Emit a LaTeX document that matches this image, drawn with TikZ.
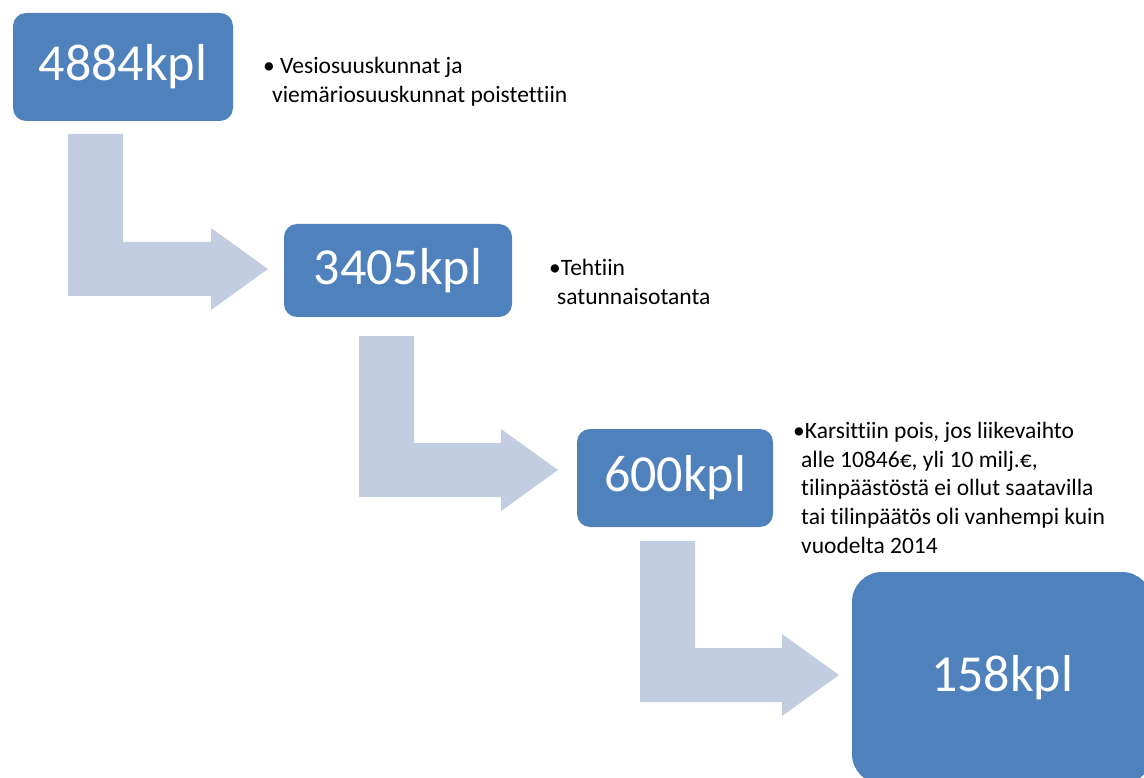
\documentclass[tikz,border=0pt]{standalone}
\usepackage{fontspec}
\setmainfont[Ligatures=NoCommon]{Carlito}
\definecolor{stageblue}{RGB}{79,129,189}
\definecolor{arrowgrey}{RGB}{194,205,226}
\tikzstyle{stage}=[rounded corners=13pt,fill=stageblue,text=white,font=\fontsize{52}{60}\selectfont]
\tikzstyle{note}=[anchor=north west,inner sep=0pt,align=left,font=\fontsize{23.5}{28.7}\selectfont]

\begin{document}
\begin{tikzpicture}[x=1pt,y=-1pt]
          \useasboundingbox (0,0) rectangle (1144,778);
          \clip (0,0) rectangle (1144,778);

          \foreach \l/\t/\c/\h in {68/134/269/211, 359/336/470/501, 640/541/675/782}{
            \fill[arrowgrey] (\l,\t) -- (\l+55,\t) -- (\l+55,\c-27) -- (\h,\c-27) -- (\h,\c-41)
              -- (\h+57,\c) -- (\h,\c+41) -- (\h,\c+27) -- (\l,\c+27) -- cycle;
          }

          \node (b1) at (123,67) [stage,minimum width=220pt,minimum height=108pt] {4884kpl};
          \node (b2) at (398,270.5) [stage,minimum width=228pt,minimum height=93pt] {3405kpl};
          \node (b3) at (675,478) [stage,minimum width=196pt,minimum height=98pt] {600kpl};
          \node (b4) at (1002,678) [stage,rounded corners=30pt,minimum width=300pt,minimum height=212pt] {158kpl};

          \node (t1) at (263,57) [note] {\textbullet\ Vesiosuuskunnat ja\\\hspace*{9pt}viemäriosuuskunnat poistettiin};
          \node (t2) at (549,259) [note] {\textbullet Tehtiin\\\hspace*{8pt}satunnaisotanta};
          \node (t3) at (793,422) [note] {\textbullet Karsittiin pois, jos liikevaihto\\
            \hspace*{8pt}alle 10846€, yli 10 milj.€,\\
            \hspace*{8pt}tilinpäästöstä ei ollut saatavilla\\
            \hspace*{8pt}tai tilinpäätös oli vanhempi kuin\\
            \hspace*{8pt}vuodelta 2014};
        \end{tikzpicture}
\end{document}
